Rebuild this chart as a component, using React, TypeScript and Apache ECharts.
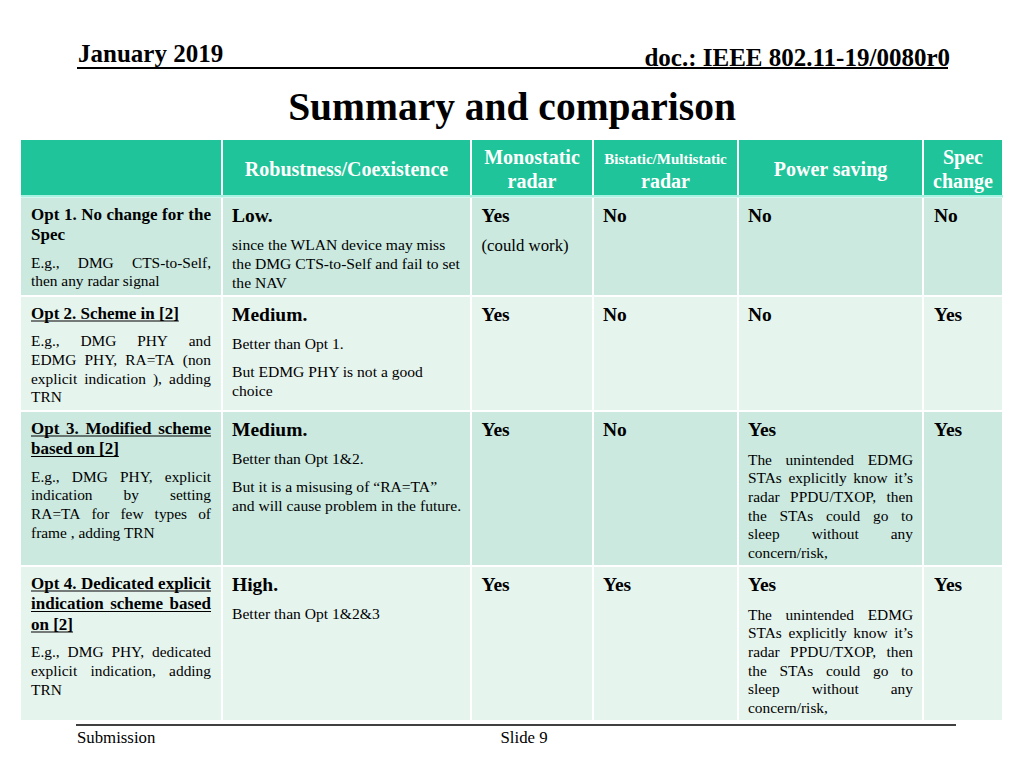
import React, { useEffect, useRef } from "react";
import * as echarts from "echarts";

// ---- slide texts ----
const dateText = "January 2019";
const docText = "doc.: IEEE 802.11-19/0080r0";
const titleText = "Summary and comparison";
const footerLeft = "Submission";
const footerCenter = "Slide 9";

// ---- table header ----
const headerLines: string[][] = [
  [],
  ["Robustness/Coexistence"],
  ["Monostatic", "radar"],
  ["Bistatic/Multistatic", "radar"],
  ["Power saving"],
  ["Spec", "change"],
];

// ---- table body ----
const optionTitles: string[][] = [
  ["Opt 1. No change for the", "Spec"],
  ["Opt 2. Scheme in [2]"],
  ["Opt 3. Modified scheme", "based on [2]"],
  ["Opt 4. Dedicated explicit", "indication scheme based", "on [2]"],
];
const optionTitleUnderlined = [false, true, true, true];
const optionExamples: string[][] = [
  ["E.g., DMG CTS-to-Self,", "then any radar signal"],
  ["E.g., DMG PHY and", "EDMG PHY, RA=TA (non", "explicit indication ), adding", "TRN"],
  ["E.g., DMG PHY, explicit", "indication by setting", "RA=TA for few types of", "frame , adding TRN"],
  ["E.g., DMG PHY, dedicated", "explicit indication, adding", "TRN"],
];
const robustnessLevels = ["Low.", "Medium.", "Medium.", "High."];
const robustnessNotes: string[][][] = [
  [["since the WLAN device may miss", "the DMG CTS-to-Self and fail to set", "the NAV"]],
  [["Better than Opt 1."], ["But EDMG PHY is not a good", "choice"]],
  [["Better than Opt 1&2."], ["But it is a misusing of \u201cRA=TA\u201d", "and will cause problem in the future."]],
  [["Better than Opt 1&2&3"]],
];
const monostatic = ["Yes", "Yes", "Yes", "Yes"];
const monostaticNotes = ["(could work)", "", "", ""];
const bistatic = ["No", "No", "No", "Yes"];
const powerSaving = ["No", "No", "Yes", "Yes"];
const powerNoteLines = [
  "The unintended EDMG",
  "STAs explicitly know it\u2019s",
  "radar PPDU/TXOP, then",
  "the STAs could go to",
  "sleep without any",
  "concern/risk,",
];
const powerNotes: string[][] = [[], [], powerNoteLines, powerNoteLines];
const specChange = ["No", "Yes", "Yes", "Yes"];

// ---- layout ----
const FONT = '"Liberation Serif", "Times New Roman", serif';
const colX = [21, 222, 471, 593, 738, 923, 1003];
const headerTop = 140;
const headerBottom = 195;
const rowTops = [198, 297, 412, 567];
const rowBottoms = [295, 410, 565, 720];
const HEADER_BG = "#1fc49a";
const ROW_BG = ["#cbe9df", "#e6f4ee"];
const SEP = "#a9f2e2";

let measureCtx: CanvasRenderingContext2D | null = null;
function measure(text: string, size: number, bold: boolean): number {
  if (!measureCtx) {
    const c = document.createElement("canvas");
    measureCtx = c.getContext("2d");
  }
  if (!measureCtx) return text.length * size * 0.5;
  measureCtx.font = `${bold ? "bold " : ""}${size}px ${FONT}`;
  return measureCtx.measureText(text).width;
}

function txt(
  text: string,
  x: number,
  y: number,
  size: number,
  bold: boolean,
  fill = "#000",
  align = "left"
) {
  return {
    type: "text",
    x,
    y,
    silent: true,
    style: {
      text,
      fill,
      fontSize: size,
      fontFamily: FONT,
      fontWeight: bold ? "bold" : "normal",
      align,
      verticalAlign: "middle",
    },
  };
}

function justified(
  els: any[],
  text: string,
  x: number,
  y: number,
  width: number,
  size: number,
  bold: boolean
) {
  const words = text.split(/\s+/).filter((w) => w.length > 0);
  if (words.length < 2) {
    els.push(txt(text, x, y, size, bold));
    return;
  }
  const widths = words.map((w) => measure(w, size, bold));
  const total = widths.reduce((a, b) => a + b, 0);
  const gap = (width - total) / (words.length - 1);
  let cx = x;
  words.forEach((w, i) => {
    els.push(txt(w, cx, y, size, bold));
    cx += widths[i] + gap;
  });
}

function paragraph(
  els: any[],
  lines: string[],
  x: number,
  y0: number,
  step: number,
  size: number,
  bold: boolean,
  justifyWidth: number | null,
  underline = false
) {
  lines.forEach((line, i) => {
    const y = y0 + i * step;
    const last = i === lines.length - 1;
    if (justifyWidth && !last) {
      justified(els, line, x, y, justifyWidth, size, bold);
    } else {
      els.push(txt(line, x, y, size, bold));
    }
    if (underline) {
      const w = justifyWidth && !last ? justifyWidth : measure(line, size, bold);
      els.push({
        type: "line",
        silent: true,
        shape: { x1: x, y1: y + 8, x2: x + w, y2: y + 8 },
        style: { stroke: "#000", lineWidth: 1.2 },
      });
    }
  });
}

function buildGraphic() {
  const els: any[] = [];
  // slide header
  els.push(txt(dateText, 78, 53, 25, true));
  els.push(txt(docText, 950, 57, 25, true, "#000", "right"));
  els.push({
    type: "line",
    silent: true,
    shape: { x1: 77, y1: 68, x2: 948, y2: 68 },
    style: { stroke: "#000", lineWidth: 2 },
  });
  els.push(txt(titleText, 512, 107, 39.5, true, "#000", "center"));

  // header cells
  for (let c = 0; c < 6; c++) {
    els.push({
      type: "rect",
      silent: true,
      shape: { x: colX[c] + (c === 0 ? 0 : 1), y: headerTop, width: colX[c + 1] - colX[c] - (c === 0 ? 1 : 2), height: headerBottom - headerTop },
      style: { fill: HEADER_BG },
    });
    const lines = headerLines[c];
    const cx = (colX[c] + colX[c + 1]) / 2;
    if (lines.length === 1) {
      els.push(txt(lines[0], cx, 169, 20, true, "#fff", "center"));
    } else if (lines.length === 2) {
      const small = c === 3;
      els.push(txt(lines[0], cx, small ? 159 : 157, small ? 15 : 20, true, "#fff", "center"));
      els.push(txt(lines[1], cx, 181, 20, true, "#fff", "center"));
    }
  }
  // separator under header
  els.push({
    type: "rect",
    silent: true,
    shape: { x: colX[0], y: headerBottom, width: colX[6] - colX[0], height: 2.5 },
    style: { fill: SEP },
  });

  // body cells
  for (let r = 0; r < 4; r++) {
    const top = rowTops[r];
    const bottom = rowBottoms[r];
    for (let c = 0; c < 6; c++) {
      els.push({
        type: "rect",
        silent: true,
        shape: {
          x: colX[c] + (c === 0 ? 0 : 1),
          y: top,
          width: colX[c + 1] - colX[c] - (c === 0 ? 1 : 2),
          height: bottom - top,
        },
        style: { fill: ROW_BG[r % 2] },
      });
    }
    // option label column
    const lx = colX[0] + 10;
    const lw = colX[1] - 11 - lx;
    const titles = optionTitles[r];
    paragraph(els, titles, lx, top + 16, 20.5, 17, true, lw, optionTitleUnderlined[r]);
    const exY = top + 16 + (titles.length - 1) * 20.5 + 27.5;
    paragraph(els, optionExamples[r], lx, exY, 18.8, 15.4, false, lw);

    // robustness
    const rx = colX[1] + 10;
    const levelY = top + 17.5;
    els.push(txt(robustnessLevels[r], rx, levelY, 19.5, true));
    let ny = levelY + 29;
    robustnessNotes[r].forEach((para) => {
      paragraph(els, para, rx, ny, 19, 15.6, false, null);
      ny += para.length * 19 + 8.5;
    });

    // monostatic
    const mx = colX[2] + 10.5;
    els.push(txt(monostatic[r], mx, levelY, 19.5, true));
    if (monostaticNotes[r]) els.push(txt(monostaticNotes[r], mx, levelY + 30, 16.8, false));

    // bistatic
    els.push(txt(bistatic[r], colX[3] + 10, levelY, 19.5, true));

    // power saving
    const px = colX[4] + 10;
    els.push(txt(powerSaving[r], px, levelY, 19.5, true));
    if (powerNotes[r].length) {
      paragraph(els, powerNotes[r], px, levelY + 29.5, 18.7, 15.4, false, colX[5] - 10 - px);
    }

    // spec change
    els.push(txt(specChange[r], colX[5] + 11, levelY, 19.5, true));
  }

  // footer
  els.push({
    type: "line",
    silent: true,
    shape: { x1: 76, y1: 725, x2: 956, y2: 725 },
    style: { stroke: "#000", lineWidth: 1.5 },
  });
  els.push(txt(footerLeft, 77, 737, 16.8, false));
  els.push(txt(footerCenter, 500.5, 737, 16.8, false));
  return els;
}

export default function App() {
  const ref = useRef<HTMLDivElement>(null);
  useEffect(() => {
    document.body.style.margin = "0";
    if (!ref.current) return;
    const chart = echarts.init(ref.current, undefined, { renderer: "svg" });
    chart.setOption({
      animation: false,
      backgroundColor: "#ffffff",
      graphic: { elements: buildGraphic() },
    });
    return () => chart.dispose();
  }, []);
  return <div ref={ref} style={{ width: 1024, height: 768 }} />;
}
